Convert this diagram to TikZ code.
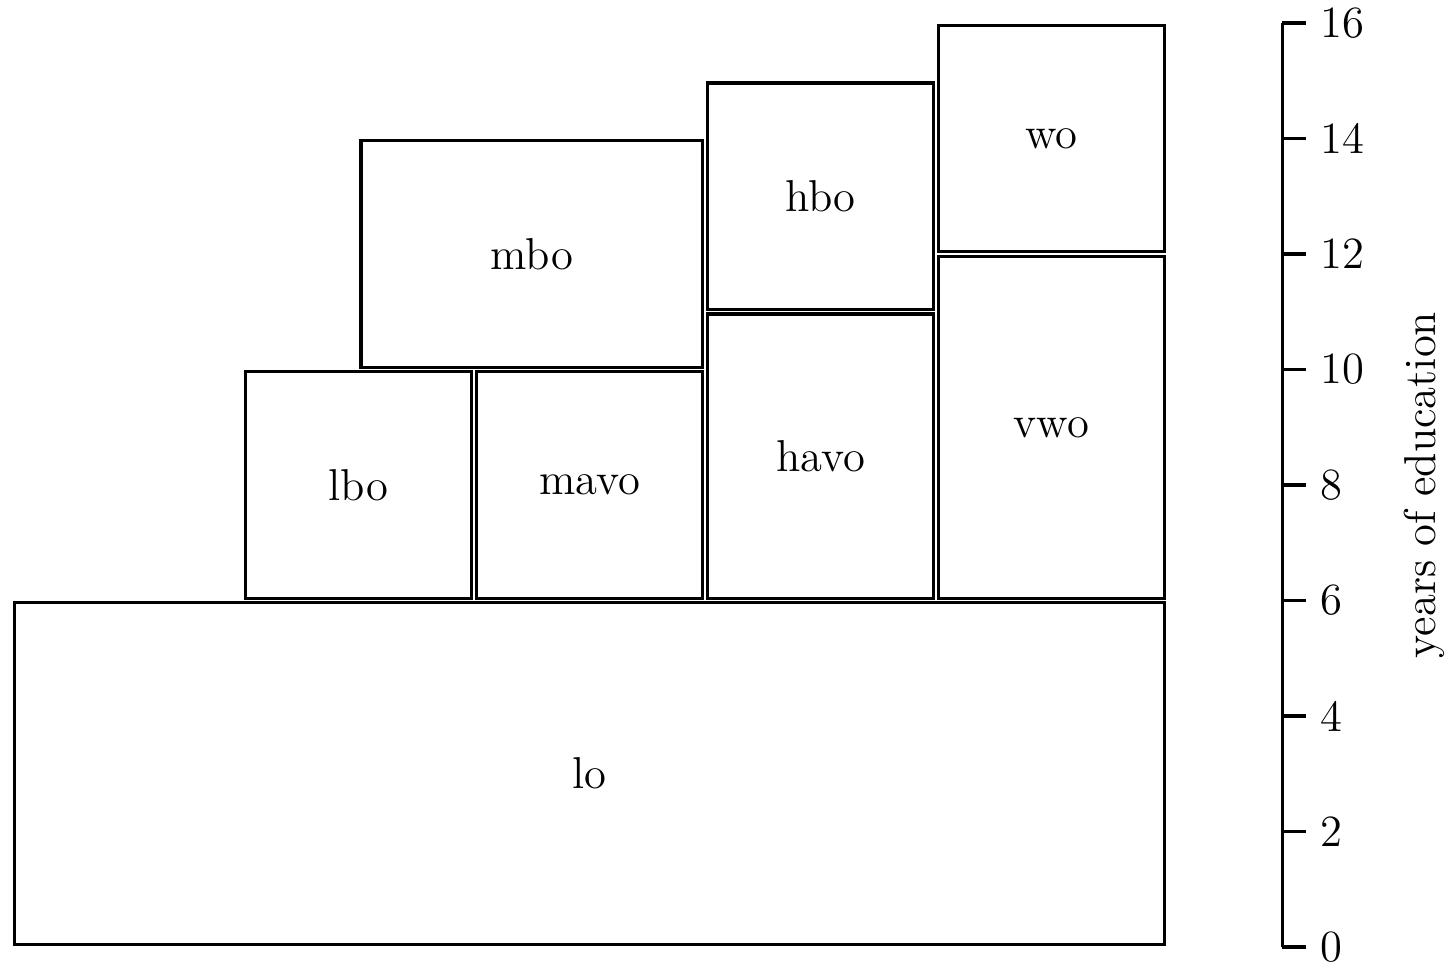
\documentclass[tikz,border=0pt]{standalone}
\usepackage{tikz}
\usetikzlibrary{positioning}
\newcommand{\schoolbox}[5]{% x0, y0, x1, y1, name/label
    \draw[box] (#1+0.04,#2+0.04) rectangle (#3-0.04,#4-0.04);
    \node[lbl] (#5) at ({(#1+#3)/2},{(#2+#4)/2}) {#5};
}

\begin{document}
\begin{tikzpicture}[
    x=0.5cm, y=0.5cm,
    box/.style={thick, black},
    lbl/.style={font=\fontsize{11}{13}\selectfont, text=black},
    axis/.style={thick, black},
    ticklbl/.style={font=\fontsize{11}{13}\selectfont, anchor=west}
]
\useasboundingbox (-0.21,-0.31) rectangle (24.85,16.4);

% ===================================================================
% SCHOOL TYPES
% ===================================================================
\schoolbox{0}{0}{20}{6}{lo}
% Secondary
\schoolbox{4}{6}{8}{10}{lbo}
\schoolbox{8}{6}{12}{10}{mavo}
\schoolbox{12}{6}{16}{11}{havo}
\schoolbox{16}{6}{20}{12}{vwo}
% Tertiary
\schoolbox{6}{10}{12}{14}{mbo}
\schoolbox{12}{11}{16}{15}{hbo}
\schoolbox{16}{12}{20}{16}{wo}

% ===================================================================
% AXIS
% ===================================================================
\draw[axis] (22,0) -- (22,16);
\foreach \y in {0,2,...,16} {
    \draw[axis] (22,\y) -- (22.4,\y) node[ticklbl] (tick\y) {\y};
}
\node[lbl, rotate=90] (ylabel) at (24.45,8) {years of education};

\end{tikzpicture}
\end{document}
